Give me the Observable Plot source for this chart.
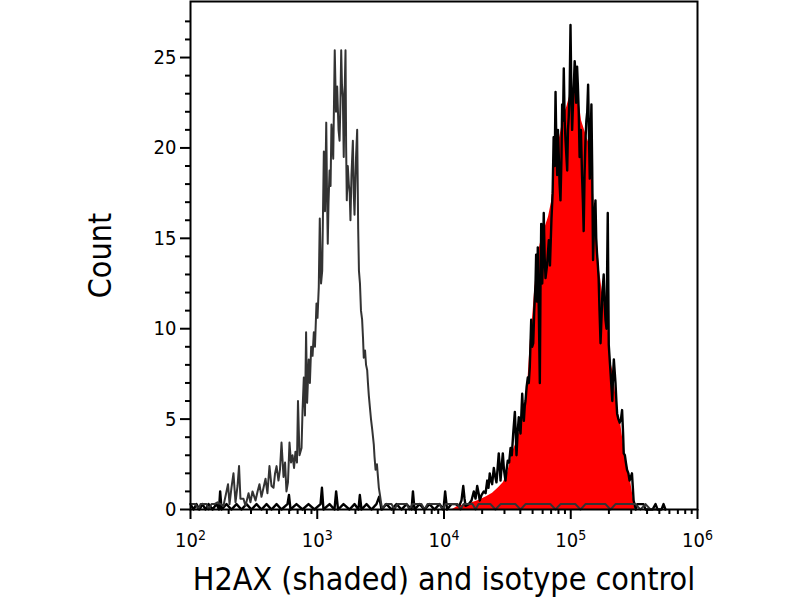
<!DOCTYPE html>
<html>
<head>
<meta charset="utf-8">
<script src="https://cdn.jsdelivr.net/npm/d3@7"></script>
<script src="https://cdn.jsdelivr.net/npm/@observablehq/plot@0.6"></script>
<style>
  html, body { margin: 0; padding: 0; background: #fff; }
  #chart { width: 800px; height: 600px; }
</style>
</head>
<body>
<div id="chart"></div>
<script>
// Axis titles
const xTitle = "H2AX (shaded) and isotype control";
const yTitle = "Count";

// Tick positions
const yMajor = [0, 5, 10, 15, 20, 25];
const yMinor = [1,2,3,4,6,7,8,9,11,12,13,14,16,17,18,19,21,22,23,24,26,27];
const xMajor = [1e2, 1e3, 1e4, 1e5, 1e6];
const xMinorMult = [2,3,4,5,6,7,8,9];
const xMinorDecades = [1e2, 1e3, 1e4, 1e5];

// Isotype control (grey outline): log10 intensity and count
const isoExp = [2.000,2.016,2.039,2.063,2.079,2.103,2.126,2.142,2.166,2.189,2.213,2.237,2.260,2.284,2.296,2.308,2.323,2.339,2.355,2.371,2.383,2.394,2.418,2.434,2.458,2.473,2.489,2.513,2.529,2.544,2.560,2.576,2.592,2.607,2.623,2.639,2.655,2.667,2.679,2.694,2.706,2.718,2.734,2.746,2.757,2.769,2.781,2.793,2.805,2.817,2.828,2.840,2.848,2.860,2.876,2.884,2.894,2.903,2.912,2.920,2.933,2.942,2.952,2.963,2.973,2.982,2.994,3.002,3.012,3.020,3.030,3.039,3.052,3.061,3.071,3.077,3.083,3.089,3.097,3.105,3.112,3.126,3.138,3.148,3.157,3.168,3.176,3.183,3.189,3.195,3.202,3.209,3.216,3.223,3.228,3.233,3.241,3.249,3.256,3.262,3.270,3.281,3.288,3.294,3.306,3.315,3.323,3.329,3.337,3.345,3.354,3.361,3.367,3.377,3.385,3.394,3.400,3.407,3.416,3.424,3.434,3.440,3.446,3.452,3.460,3.471,3.486,3.495,3.505,3.515,3.538,3.562,3.586,3.609,3.633,3.657,3.680,3.704,3.728,3.751,3.775,3.799,3.822,3.846,3.870,3.894,3.917,3.941,3.964,3.988,4.012,4.036,4.059,4.083,4.107,4.130,4.154,4.178,4.201,4.225,4.249,4.272,4.296,4.320,4.343,4.367,4.406,4.446,4.485,4.525,4.564,4.604,4.643,4.682,4.722,4.761,4.801,4.840,4.880,4.919,4.959,4.998,5.037,5.077,5.116,5.156,5.195,5.235,5.274,5.314,5.353,5.393,5.432,5.471,5.511,5.550,5.590,5.629,5.700];
const isoCount = [0.3,0.3,0.3,0,0.3,0.3,0.3,0,0.3,0.3,0.4,0.3,0.2,1.0,1.4,0.3,1.2,2.0,0.4,1.3,2.4,0.6,0.6,0.2,0.9,0.4,1.0,0.5,1.0,1.4,0.7,1.2,1.7,0.9,2.4,1.3,1.2,2.0,2.4,1.6,2.2,3.7,1.8,2.6,1.0,1.5,3.7,2.6,3.0,2.3,3.2,2.6,6.0,3.0,3.4,5.5,7.3,5.2,9.8,5.9,8.3,7.0,9.0,8.5,9.8,9.0,11.4,10.6,12.3,16.1,12.5,13.2,19.8,16.5,21.4,17.5,14.7,17.0,18.75,17.9,21.3,19.4,25.4,22.0,23.4,21.0,20.4,22.5,25.4,23.5,22.8,19.5,23.0,25.4,20.0,17.1,19.0,18.0,17.5,16.0,18.5,20.4,17.5,16.3,19.5,21.0,15.5,13.2,12.5,11.0,10.5,9.5,8.4,8.8,8.0,7.7,7.0,6.3,5.6,5.0,4.4,4.0,3.6,2.9,2.2,2.5,1.2,0.8,0.3,0,0.3,0.3,0.3,0,0.3,0.3,0.3,0.3,0,0.3,0.3,0.3,0.3,0,0.3,0.3,0.3,0.3,0.3,0,0.3,0.3,0.3,0.3,0.3,0,0.3,0.3,0.3,0.3,0,0.3,0.3,0.3,0.3,0.3,0,0.3,0.3,0.3,0.3,0,0.3,0.3,0.3,0.3,0.3,0.3,0,0.3,0.3,0.3,0.3,0,0.3,0.3,0.3,0.3,0.3,0,0.3,0.3,0.3,0.3,0.3,0,0.3,0,0];

// H2AX (black outline): log10 intensity and count
const h2axExp = [2.000,2.024,2.047,2.071,2.095,2.118,2.142,2.174,2.205,2.225,2.234,2.245,2.284,2.323,2.363,2.402,2.442,2.481,2.521,2.560,2.600,2.639,2.679,2.718,2.765,2.777,2.789,2.836,2.884,2.931,2.978,3.026,3.037,3.049,3.097,3.136,3.149,3.164,3.207,3.254,3.294,3.325,3.336,3.349,3.389,3.428,3.467,3.488,3.507,3.546,3.586,3.625,3.665,3.704,3.744,3.755,3.767,3.807,3.846,3.886,3.925,3.964,3.996,4.009,4.024,4.059,4.091,4.120,4.138,4.152,4.162,4.170,4.196,4.217,4.235,4.249,4.262,4.273,4.282,4.296,4.314,4.328,4.341,4.351,4.361,4.371,4.380,4.393,4.402,4.414,4.422,4.432,4.439,4.446,4.455,4.464,4.473,4.485,4.494,4.503,4.514,4.525,4.535,4.546,4.559,4.566,4.572,4.581,4.590,4.597,4.604,4.611,4.617,4.623,4.630,4.637,4.643,4.652,4.661,4.669,4.677,4.688,4.696,4.704,4.712,4.722,4.727,4.733,4.740,4.748,4.756,4.761,4.767,4.775,4.781,4.787,4.794,4.801,4.813,4.827,4.836,4.848,4.857,4.865,4.873,4.880,4.887,4.893,4.899,4.905,4.912,4.919,4.927,4.932,4.939,4.945,4.952,4.959,4.966,4.972,4.978,4.984,4.991,4.998,5.004,5.011,5.018,5.024,5.031,5.037,5.043,5.050,5.056,5.063,5.070,5.080,5.089,5.096,5.102,5.109,5.116,5.123,5.130,5.137,5.143,5.150,5.157,5.163,5.169,5.176,5.183,5.189,5.195,5.201,5.207,5.214,5.220,5.227,5.235,5.242,5.250,5.260,5.267,5.274,5.282,5.292,5.300,5.310,5.319,5.328,5.334,5.340,5.347,5.353,5.360,5.366,5.376,5.386,5.396,5.405,5.413,5.418,5.427,5.435,5.444,5.455,5.464,5.474,5.483,5.490,5.496,5.503,5.513,5.525,5.550,5.574,5.590,5.645,5.669,5.685,5.716,5.732,5.747];
const h2axCount = [0.3,0,0.3,0,0.3,0,0.3,0,0.3,0,1.0,0,0.3,0,0.3,0,0.3,0,0.3,0,0.3,0,0.3,0,0.3,0.8,0,0.3,0,0.3,0,0.3,1.2,0,0.3,0,1.0,0,0.3,0,0.3,0,0.8,0,0.3,0,0.3,0.7,0,0.3,0,0.3,0,0.3,0,1.0,0,0.3,0,0.3,0,0.3,0,1.0,0,0.3,0.3,0.2,0.5,1.3,0.6,0.2,0.3,0.5,1.0,0.6,1.3,0.9,0.5,0.8,1.0,0.9,1.6,1.2,2.0,1.6,1.4,2.3,1.9,1.5,2.2,3.1,2.4,1.6,2.4,3.1,2.2,1.6,2.2,2.7,2.6,3.4,3.0,4.2,5.4,4.2,3.0,4.3,5.1,4.6,4.2,5.4,6.4,5.5,4.9,5.7,6.0,6.8,7.3,7.0,7.9,10.5,9.0,9.2,11.0,12.5,14.1,11.5,14.5,11.0,7.0,12.0,15.8,12.5,14.0,16.4,14.0,12.8,13.5,14.9,13.5,16.1,17.5,20.6,19.0,23.1,20.0,18.5,21.0,19.7,18.0,17.1,19.5,22.4,21.5,24.4,21.5,20.4,19.5,18.75,21.0,21.7,23.0,26.8,23.5,21.0,22.5,23.4,24.8,24.2,22.5,24.5,23.5,22.0,19.5,21.0,18.5,17.0,15.4,18.5,20.4,21.5,22.0,23.5,21.0,18.3,20.5,22.4,19.0,13.8,15.5,16.5,17.1,15.0,14.2,13.5,12.8,11.0,9.2,10.5,12.0,13.0,11.5,10.5,10.0,16.4,9.1,8.0,7.0,6.0,7.5,8.3,7.6,7.0,6.0,5.3,5.0,4.8,5.0,5.5,4.2,3.1,3.0,2.6,2.2,2.0,1.6,1.8,2.0,1.2,0.5,0.3,0,0.3,0.3,0.3,0,0,0.3,0,0,0.3,0];

// H2AX shaded area (red fill)
const fillExp = [4.067,4.114,4.193,4.272,4.335,4.383,4.430,4.469,4.501,4.525,4.548,4.577,4.604,4.627,4.643,4.663,4.682,4.698,4.714,4.729,4.745,4.769,4.793,4.825,4.848,4.864,4.875,4.895,4.919,4.943,4.966,4.990,5.014,5.037,5.061,5.085,5.108,5.132,5.156,5.172,5.187,5.209,5.227,5.250,5.274,5.290,5.314,5.337,5.366,5.393,5.416,5.444,5.471,5.494,5.506];
const fillCount = [0,0.2,0.3,0.5,0.7,0.9,1.2,1.5,2.0,2.7,3.3,3.8,4.6,5.4,6.0,7.2,9.4,10.5,12.0,13.2,14.2,15.0,15.5,16.2,17.0,18.2,19.5,20.0,20.8,21.8,22.2,22.8,23.0,23.4,22.8,21.5,21.0,20.5,20.0,18.5,16.5,14.8,13.2,12.0,11.0,10.5,8.2,7.5,5.6,4.8,3.6,2.5,1.6,0.6,0];

const toRows = (ex, ct) => ex.map((e, i) => ({x: Math.pow(10, e), y: ct[i]}));
const iso = toRows(isoExp, isoCount);
const h2ax = toRows(h2axExp, h2axCount);
const shade = toRows(fillExp, fillCount);
const xMinor = xMinorDecades.flatMap(d => xMinorMult.map(m => m * d));

const font = "'DejaVu Sans Condensed', 'DejaVu Sans', sans-serif";

const chart = Plot.plot({
  width: 800,
  height: 600,
  marginLeft: 190,
  marginRight: 103,
  marginTop: 1,
  marginBottom: 91,
  style: {fontFamily: font, background: "#fff", color: "#000", overflow: "visible"},
  x: {type: "log", domain: [1e2, 1e6]},
  y: {domain: [0, 28.1]},
  marks: [
    Plot.areaY(shade, {x: "x", y: "y", fill: "#ff0000"}),
    Plot.lineY(h2ax, {x: "x", y: "y", stroke: "#000", strokeWidth: 2.4}),
    Plot.lineY(iso, {x: "x", y: "y", stroke: "#333", strokeWidth: 2}),
    Plot.axisY({ticks: yMinor, tickSize: 5, tickFormat: () => "", label: null, strokeWidth: 2}),
    Plot.axisY({ticks: yMajor, tickSize: 10, tickPadding: 4, fontSize: 20, label: null, strokeWidth: 2, tickFormat: d => String(d)}),
    Plot.axisX({ticks: xMinor, tickSize: 5, tickFormat: () => "", label: null, strokeWidth: 2}),
    Plot.axisX({ticks: xMajor, tickSize: 10, tickPadding: 13, fontSize: 20, label: null, strokeWidth: 2,
      tickFormat: d => "10^" + Math.round(Math.log10(d))}),
    Plot.frame({stroke: "#000", strokeWidth: 2}),
    Plot.text([xTitle], {text: d => d, frameAnchor: "bottom", dy: 80, fontSize: 32}),
    Plot.text([yTitle], {text: d => d, frameAnchor: "left", textAnchor: "middle", dx: -90, rotate: -90, fontSize: 32})
  ]
});

// heavier tick strokes
chart.querySelectorAll("g[aria-label]").forEach(g => {
  const lab = g.getAttribute("aria-label");
  if (/tick$/.test(lab)) {
    g.setAttribute("stroke-width", "2");
    g.setAttribute("stroke", "#000");
    g.querySelectorAll("path, line").forEach(p => { p.setAttribute("stroke-width", "2"); p.style.strokeWidth = "2px"; });
  }
});

// superscript exponents on the x tick labels
chart.querySelectorAll("text").forEach(t => {
  const m = /^10\^(\d)$/.exec(t.textContent);
  if (m) {
    t.textContent = "";
    const ns = "http://www.w3.org/2000/svg";
    const a = document.createElementNS(ns, "tspan");
    a.textContent = "10";
    const b = document.createElementNS(ns, "tspan");
    b.textContent = m[1];
    b.setAttribute("dy", "-0.5em");
    b.setAttribute("font-size", "0.7em");
    t.appendChild(a);
    t.appendChild(b);
  }
});

document.getElementById("chart").appendChild(chart);
</script>
</body>
</html>
